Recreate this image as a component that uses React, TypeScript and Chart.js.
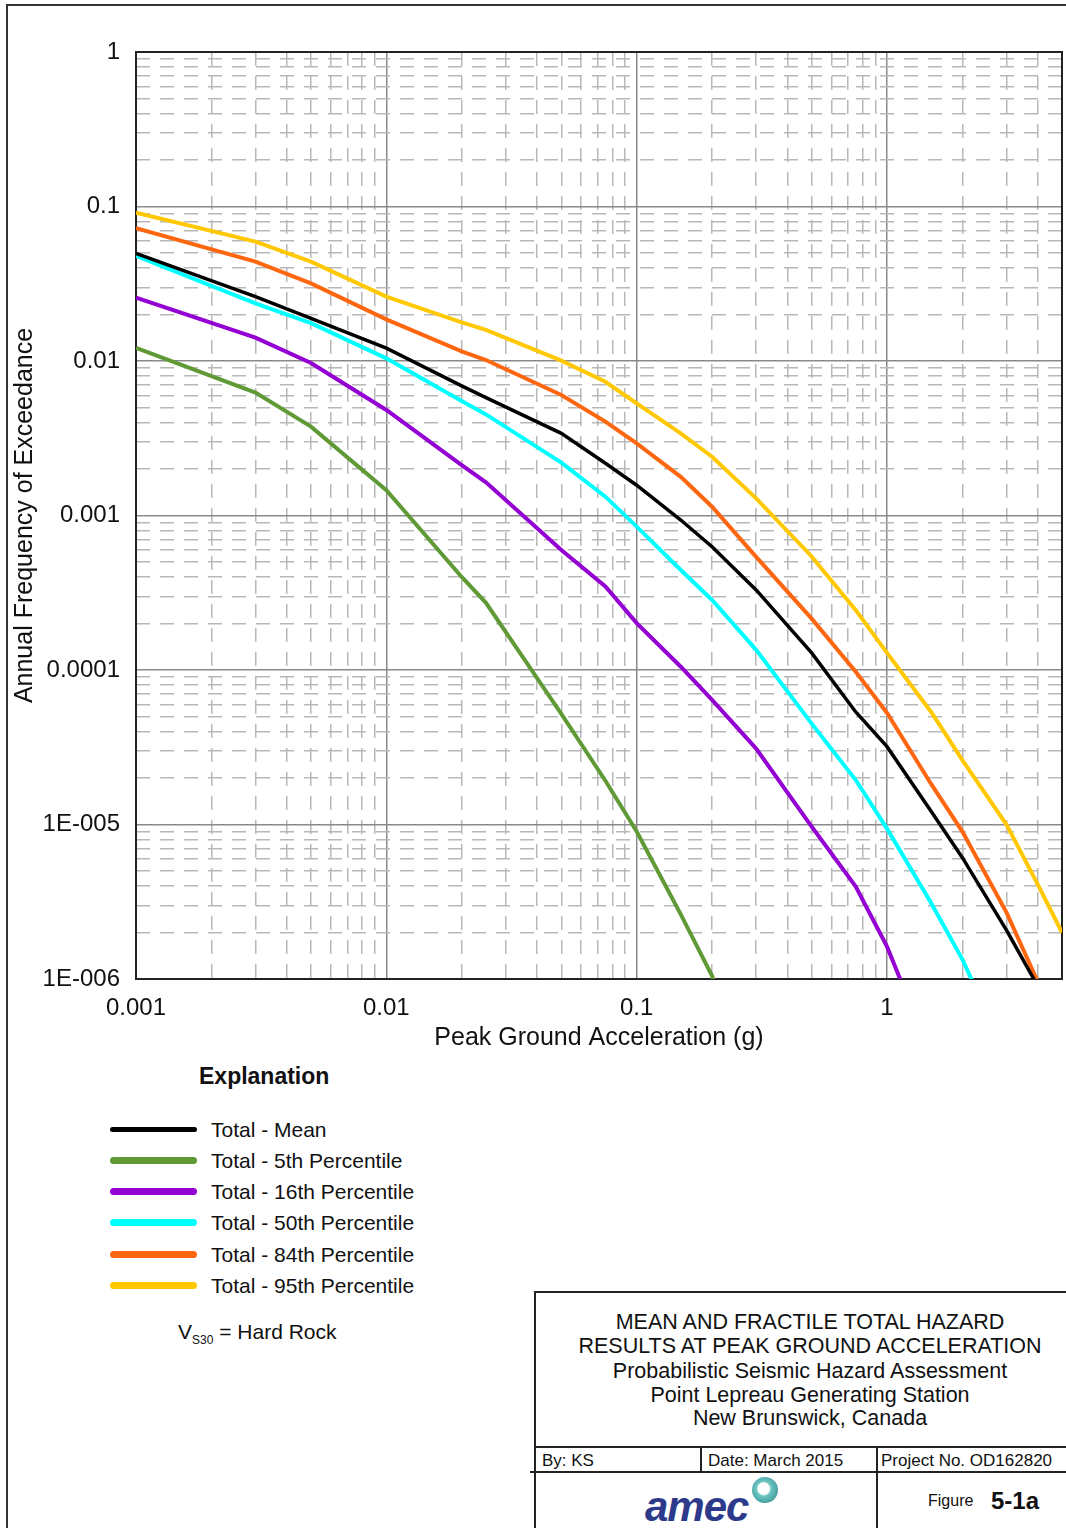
import React, { useEffect, useRef } from "react";
import { Chart, registerables } from "chart.js";

Chart.register(...registerables);

// ---------- data ----------
const pga = [0.001, 0.003, 0.005, 0.01, 0.02, 0.025, 0.05, 0.075, 0.1, 0.15, 0.2, 0.3, 0.5, 0.75, 1, 1.5, 2, 3, 4, 5];

const totalMean = [0.0498, 0.0261, 0.0189, 0.0121, 0.0069, 0.0058, 0.0034, 0.00218, 0.00157, 0.000935, 0.000628, 0.00033, 0.000129, 5.35e-5, 3.19e-5, 1.22e-5, 6.1e-6, 2.07e-6, 9.0e-7, null];
const total5th = [0.01214, 0.00624, 0.00376, 0.00146, 0.0004, 0.000272, 5.2e-5, 1.92e-5, 9.0e-6, 2.62e-6, 1.05e-6, 1.3e-7, null, null, null, null, null, null, null, null];
const total16th = [0.0257, 0.01416, 0.0097, 0.00482, 0.00212, 0.00164, 0.000598, 0.000347, 0.000201, 0.000105, 6.4e-5, 3.1e-5, 9.7e-6, 3.97e-6, 1.62e-6, 3.2e-7, null, null, null, null];
const total50th = [0.0479, 0.0236, 0.0176, 0.0104, 0.0055, 0.00451, 0.0022, 0.001324, 0.000847, 0.000444, 0.000284, 0.000135, 4.5e-5, 1.94e-5, 9.4e-6, 3.1e-6, 1.34e-6, 3.2e-7, null, null];
const total84th = [0.0723, 0.044, 0.0318, 0.0186, 0.01155, 0.01015, 0.00603, 0.00405, 0.00293, 0.00178, 0.00114, 0.00054, 0.000215, 9.75e-5, 5.27e-5, 1.83e-5, 9.0e-6, 2.7e-6, 9.6e-7, null];
const total95th = [0.0912, 0.0592, 0.044, 0.0261, 0.0178, 0.0159, 0.01005, 0.00734, 0.00532, 0.0034, 0.0024, 0.00129, 0.000543, 0.000244, 0.000129, 5.35e-5, 2.61e-5, 1.0e-5, 4.1e-6, 2.0e-6];

const seriesValues = [totalMean, total5th, total16th, total50th, total84th, total95th];
const seriesLabels = ["Total - Mean", "Total - 5th Percentile", "Total - 16th Percentile", "Total - 50th Percentile", "Total - 84th Percentile", "Total - 95th Percentile"];
const seriesColors = ["#000000", "#609a36", "#9400d3", "#00ffff", "#ff6610", "#ffc800"];

const xTickValues = [0.001, 0.01, 0.1, 1];
const xTickLabels = ["0.001", "0.01", "0.1", "1"];
const yTickValues = [1, 0.1, 0.01, 0.001, 0.0001, 0.00001, 0.000001];
const yTickLabels = ["1", "0.1", "0.01", "0.001", "0.0001", "1E-005", "1E-006"];

const xAxisTitle = "Peak Ground Acceleration (g)";
const yAxisTitle = "Annual Frequency of Exceedance";

const titleLines = [
  "MEAN AND FRACTILE TOTAL HAZARD",
  "RESULTS AT PEAK GROUND ACCELERATION",
  "Probabilistic Seismic Hazard Assessment",
  "Point Lepreau Generating Station",
  "New Brunswick, Canada",
];

// ---------- helpers ----------
const FONT = '"Liberation Sans", Arial, sans-serif';
const isMajor = (v: number) => {
  const l = Math.log10(v);
  return Math.abs(l - Math.round(l)) < 1e-6;
};
const labelFor = (v: number, vals: number[], labels: string[]) => {
  for (let i = 0; i < vals.length; i++) {
    if (Math.abs(Math.log10(v) - Math.log10(vals[i])) < 1e-6) return labels[i];
  }
  return "";
};
const logTicks = (min: number, max: number) => {
  const out: { value: number }[] = [];
  const e0 = Math.floor(Math.log10(min));
  const e1 = Math.ceil(Math.log10(max));
  for (let e = e0; e <= e1; e++) {
    for (let m = 1; m <= 9; m++) {
      const v = Number((m * Math.pow(10, e)).toPrecision(12));
      if (v >= min * (1 - 1e-9) && v <= max * (1 + 1e-9)) out.push({ value: v });
    }
  }
  return out;
};

const framePlugin = {
  id: "frame",
  beforeDatasetsDraw(chart: any) {
    const { ctx, chartArea: a } = chart;
    ctx.save();
    ctx.strokeStyle = "#222";
    ctx.lineWidth = 2;
    ctx.strokeRect(a.left, a.top, a.right - a.left, a.bottom - a.top);
    ctx.restore();
  },
};

const gridOpts = {
  drawTicks: false,
  tickLength: 0,
  lineWidth: 1.5,
  color: (c: any) => (c.tick && isMajor(c.tick.value) ? "#8a8a8a" : "#b8b8b8"),
};
const borderOpts = {
  display: false,
  dash: (c: any) => (c.tick && isMajor(c.tick.value) ? [] : [14, 10]),
};

export default function App() {
  const ref = useRef<HTMLCanvasElement>(null);

  useEffect(() => {
    const canvas = ref.current!;
    const chart = new Chart(canvas, {
      type: "line",
      data: {
        datasets: seriesValues.map((vals, i) => ({
          label: seriesLabels[i],
          data: pga.map((x, j) => ({ x, y: vals[j] as any })),
          borderColor: seriesColors[i],
          backgroundColor: seriesColors[i],
          borderWidth: i === 0 ? 3.5 : 4,
          pointRadius: 0,
          tension: 0,
          fill: false,
          clip: 0,
        })) as any,
      },
      options: {
        animation: false,
        responsive: false,
        devicePixelRatio: 1,
        layout: { padding: { left: 0, right: 4, top: 52, bottom: 0 } },
        plugins: { legend: { display: false }, tooltip: { enabled: false } },
        scales: {
          x: {
            type: "logarithmic",
            min: 0.001,
            max: 5,
            afterBuildTicks: (s: any) => { s.ticks = logTicks(0.001, 5); },
            afterFit: (s: any) => { s.height = 81; s.paddingLeft = 0; s.paddingRight = 0; },
            grid: gridOpts as any,
            border: borderOpts as any,
            ticks: {
              autoSkip: false,
              maxRotation: 0,
              padding: 15,
              color: "#111",
              font: { family: FONT, size: 24 },
              callback: (v: any) => labelFor(Number(v), xTickValues, xTickLabels),
            },
            title: {
              display: true,
              text: xAxisTitle,
              color: "#111",
              font: { family: FONT, size: 25 },
              padding: { top: 0, bottom: 7 },
            },
          },
          y: {
            type: "logarithmic",
            min: 0.000001,
            max: 1,
            afterBuildTicks: (s: any) => { s.ticks = logTicks(0.000001, 1); },
            afterFit: (s: any) => { s.width = 136; s.paddingTop = 0; s.paddingBottom = 0; },
            grid: gridOpts as any,
            border: borderOpts as any,
            ticks: {
              autoSkip: false,
              padding: 16,
              color: "#111",
              font: { family: FONT, size: 24 },
              callback: (v: any) => labelFor(Number(v), yTickValues, yTickLabels),
            },
            title: {
              display: true,
              text: yAxisTitle,
              color: "#111",
              font: { family: FONT, size: 25 },
              padding: { top: 10, bottom: 0 },
            },
          },
        },
      } as any,
      plugins: [framePlugin as any],
    });
    return () => chart.destroy();
  }, []);

  const legendCenters = [1129, 1160, 1191, 1222, 1254, 1285];
  const abs = (s: React.CSSProperties): React.CSSProperties => ({ position: "absolute", ...s });

  return (
    <div style={abs({ left: 0, top: 0, width: 1066, height: 1528, overflow: "hidden", background: "#fff", fontFamily: FONT, color: "#111" })}>
      {/* page frame */}
      <div style={abs({ left: 6, top: 4, width: 1080, height: 1560, border: "2px solid #333", boxSizing: "border-box" })} />
      <canvas ref={ref} width={1066} height={1060} style={abs({ left: 0, top: 0, width: 1066, height: 1060 })} />

      {/* legend */}
      <div style={abs({ left: 199, top: 1065, fontSize: 23, fontWeight: "bold", lineHeight: 1, whiteSpace: "nowrap" })}>Explanation</div>
      {seriesLabels.map((lab, i) => {
        const h = i === 0 ? 5 : 7;
        return (
          <React.Fragment key={lab}>
            <div style={abs({ left: 110, top: legendCenters[i] - h / 2, width: 87, height: h, borderRadius: h / 2, background: seriesColors[i] })} />
            <div style={abs({ left: 211, top: legendCenters[i] - 10, fontSize: 21, lineHeight: 1, whiteSpace: "nowrap" })}>{lab}</div>
          </React.Fragment>
        );
      })}
      <div style={abs({ left: 178, top: 1321, fontSize: 21, lineHeight: 1, whiteSpace: "nowrap" })}>
        V<span style={{ fontSize: 12, position: "relative", top: 5 }}>S30</span> = Hard Rock
      </div>

      {/* title block */}
      <div style={abs({ left: 534, top: 1291, width: 600, height: 300, borderLeft: "2px solid #222", borderTop: "2px solid #222" })} />
      {titleLines.map((t, i) => (
        <div key={t} style={abs({ left: 534, width: 552, top: [1312, 1336, 1361, 1385, 1408][i], textAlign: "center", fontSize: 21.5, lineHeight: 1, whiteSpace: "nowrap" })}>{t}</div>
      ))}
      <div style={abs({ left: 534, top: 1446, width: 540, height: 2, background: "#222" })} />
      <div style={abs({ left: 530, top: 1471, width: 540, height: 2, background: "#222" })} />
      <div style={abs({ left: 700, top: 1446, width: 2, height: 26, background: "#222" })} />
      <div style={abs({ left: 876, top: 1446, width: 2, height: 90, background: "#222" })} />
      <div style={abs({ left: 542, top: 1452, fontSize: 17, lineHeight: 1, whiteSpace: "nowrap" })}>By: KS</div>
      <div style={abs({ left: 708, top: 1452, fontSize: 17, lineHeight: 1, whiteSpace: "nowrap" })}>Date: March 2015</div>
      <div style={abs({ left: 881, top: 1452, fontSize: 17, lineHeight: 1, whiteSpace: "nowrap" })}>Project No. OD162820</div>
      <div style={abs({ left: 928, top: 1493, fontSize: 16, lineHeight: 1, whiteSpace: "nowrap" })}>Figure</div>
      <div style={abs({ left: 991, top: 1489, fontSize: 24, fontWeight: "bold", lineHeight: 1, whiteSpace: "nowrap" })}>5-1a</div>
      <div style={abs({ left: 645, top: 1486, fontSize: 42, fontWeight: "bold", fontStyle: "italic", lineHeight: 1, color: "#2d3a8c", letterSpacing: -1, whiteSpace: "nowrap" })}>amec</div>
      <div style={abs({ left: 752, top: 1477, width: 26, height: 26, borderRadius: "50%", background: "radial-gradient(circle at 45% 45%, #ffffff 0 28%, #6cc6c2 36%, #2a8088 100%)" })} />
    </div>
  );
}
